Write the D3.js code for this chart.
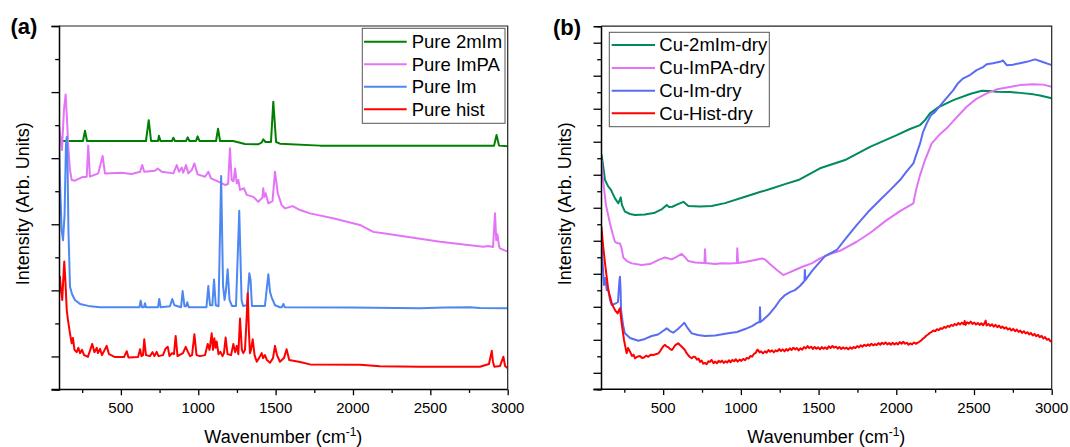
<!DOCTYPE html>
<html><head><meta charset="utf-8">
<script src="https://cdn.jsdelivr.net/npm/d3@7"></script>
<style>
body{margin:0;background:#fff}
svg{display:block}
text{font-family:"Liberation Sans",Arial,sans-serif;fill:#000}
</style>
</head><body>
<svg id="chart" width="1070" height="447"></svg>
<script>
// ---------------- data ----------------
const xMajorTicks = [500, 1000, 1500, 2000, 2500, 3000];
const xMinorTicks = [250, 750, 1250, 1750, 2250, 2750];
const xTitle = "Wavenumber (cm";
const xTitleSup = "-1";
const yTitle = "Intensity (Arb. Units)";
const panelLabels = ["(a)", "(b)"];
const namesA = ["Pure 2mIm", "Pure ImPA", "Pure Im", "Pure hist"];
const namesB = ["Cu-2mIm-dry", "Cu-ImPA-dry", "Cu-Im-dry", "Cu-Hist-dry"];

// panel (a) spectra: [wavenumber, intensity]
const pure2mIm = [[100,7.80],[110,7.61],[119,7.52],[255,7.52],[268,7.83],[281,7.52],[662,7.52],[680,8.15],[695,7.52],[740,7.52],[746,7.68],[756,7.52],[830,7.52],[839,7.62],[850,7.52],[921,7.52],[932,7.63],[943,7.52],[985,7.52],[996,7.66],[1008,7.52],[1115,7.52],[1128,7.89],[1141,7.52],[1225,7.52],[1302,7.43],[1386,7.42],[1409,7.47],[1420,7.57],[1435,7.49],[1470,7.49],[1485,8.71],[1503,7.49],[1528,7.44],[1787,7.38],[2912,7.38],[2928,7.70],[2944,7.38],[3000,7.36]];
const pureImPA = [[100,8.00],[119,7.25],[132,8.46],[143,8.93],[152,8.15],[160,7.35],[171,6.64],[182,6.34],[203,6.32],[247,6.42],[279,6.44],[289,7.38],[300,6.44],[354,6.54],[382,7.07],[397,6.54],[505,6.56],[570,6.52],[624,6.59],[638,6.79],[651,6.59],[720,6.62],[738,6.69],[764,6.59],[839,6.54],[861,6.79],[876,6.59],[893,6.72],[903,6.56],[921,6.79],[936,6.54],[958,6.64],[975,6.84],[996,6.51],[1044,6.44],[1065,6.59],[1082,6.39],[1130,6.29],[1173,6.19],[1193,6.22],[1205,7.30],[1216,6.34],[1228,6.30],[1238,6.69],[1249,6.24],[1259,6.34],[1270,6.04],[1296,6.09],[1313,5.89],[1356,5.83],[1388,5.68],[1414,5.80],[1420,6.09],[1427,5.83],[1436,5.94],[1453,5.63],[1480,5.70],[1496,6.59],[1514,5.94],[1539,5.58],[1561,5.48],[1610,5.55],[1658,5.43],[1722,5.33],[1871,5.18],[2045,4.98],[2131,4.77],[2196,4.73],[2563,4.47],[2842,4.32],[2873,4.34],[2905,4.31],[2918,5.33],[2926,4.52],[2933,4.70],[2944,4.34],[2950,4.27],[3000,4.17]];
const pureIm = [[100,7.64],[106,6.34],[117,4.83],[126,4.52],[136,5.28],[145,7.40],[150,7.64],[155,6.94],[161,4.83],[171,3.11],[184,2.89],[203,2.71],[236,2.59],[289,2.53],[365,2.49],[620,2.49],[628,2.69],[636,2.49],[649,2.49],[656,2.61],[662,2.49],[740,2.49],[748,2.74],[757,2.49],[817,2.52],[832,2.74],[846,2.55],[889,2.49],[899,2.98],[911,2.52],[921,2.52],[929,2.64],[938,2.49],[1053,2.49],[1065,3.13],[1076,2.55],[1091,2.55],[1102,3.33],[1113,2.55],[1131,2.52],[1148,6.46],[1160,3.16],[1170,2.71],[1179,3.00],[1190,3.64],[1202,2.71],[1218,2.53],[1244,2.53],[1265,5.41],[1280,2.71],[1289,2.53],[1315,2.55],[1330,3.52],[1338,3.32],[1347,2.53],[1431,2.53],[1453,3.49],[1464,2.95],[1475,2.78],[1496,2.55],[1528,2.49],[1541,2.49],[1550,2.59],[1559,2.49],[1981,2.48],[2433,2.46],[2595,2.48],[2756,2.49],[2821,2.47],[3000,2.46]];
const pureHist = [[100,3.41],[106,3.41],[113,3.01],[121,2.71],[129,3.46],[134,3.87],[141,3.31],[150,2.41],[158,2.10],[171,1.70],[182,1.40],[190,1.56],[200,1.20],[214,1.13],[225,1.26],[236,1.10],[249,1.20],[262,1.04],[287,0.99],[315,1.38],[329,1.13],[344,1.26],[352,1.10],[365,1.23],[378,1.04],[408,1.32],[423,1.07],[462,0.98],[520,0.98],[538,1.16],[549,0.97],[611,0.98],[624,1.22],[633,1.01],[643,1.04],[651,1.52],[662,1.04],[688,1.01],[704,1.13],[717,1.01],[731,1.14],[743,1.01],[772,1.04],[788,1.23],[803,1.29],[814,1.01],[830,1.10],[843,1.07],[854,1.62],[866,1.01],[901,1.10],[919,1.29],[934,1.13],[947,1.01],[960,1.04],[975,1.67],[989,1.04],[1011,1.01],[1044,1.04],[1061,1.38],[1073,1.20],[1087,1.70],[1095,1.20],[1104,1.55],[1112,1.26],[1119,1.45],[1131,1.07],[1143,1.14],[1157,1.01],[1166,1.10],[1177,1.57],[1189,1.07],[1212,1.04],[1227,1.38],[1238,1.13],[1249,1.32],[1259,1.07],[1270,2.15],[1282,1.20],[1291,1.10],[1302,1.20],[1312,2.10],[1320,2.91],[1327,1.80],[1334,1.10],[1341,1.20],[1352,1.52],[1364,1.04],[1378,0.84],[1393,0.95],[1410,1.10],[1419,0.95],[1431,1.04],[1444,0.89],[1464,0.81],[1483,0.95],[1496,1.32],[1509,1.04],[1528,0.84],[1554,0.95],[1571,1.22],[1588,0.89],[1658,0.83],[1722,0.76],[2045,0.75],[2174,0.70],[2433,0.69],[2821,0.69],[2879,0.77],[2897,1.17],[2905,0.83],[2914,0.69],[2950,0.71],[2972,0.99],[2983,0.71],[3000,0.64]];

// panel (b) spectra: [wavenumber, intensity]
const cu2mImDry = [[103,14.25],[113,13.59],[126,12.68],[145,12.31],[164,12.08],[190,11.57],[211,11.27],[221,11.47],[227,11.63],[235,11.16],[254,10.76],[287,10.62],[319,10.56],[383,10.59],[447,10.70],[493,10.92],[523,11.16],[538,11.04],[559,11.06],[595,11.22],[630,11.36],[647,11.22],[662,11.10],[737,11.07],[812,11.10],[898,11.28],[1027,11.67],[1123,11.95],[1198,12.17],[1284,12.43],[1370,12.68],[1509,13.39],[1670,13.89],[1831,14.69],[2003,15.40],[2088,15.77],[2153,16.01],[2185,16.31],[2217,16.72],[2270,17.08],[2313,17.28],[2367,17.52],[2474,17.89],[2550,18.09],[2603,18.07],[2646,18.03],[2732,18.01],[2796,17.96],[2882,17.87],[2925,17.80],[3000,17.63]];
const cuImPADry = [[103,13.89],[113,12.68],[132,11.16],[158,10.05],[177,9.35],[190,8.94],[203,8.86],[222,8.84],[232,8.56],[243,7.99],[267,7.77],[298,7.63],[362,7.53],[415,7.59],[467,7.83],[512,7.99],[555,7.87],[583,8.01],[619,8.20],[640,8.01],[662,7.77],[705,7.68],[766,7.65],[769,8.48],[774,7.65],[834,7.59],[877,7.63],[930,7.62],[974,7.65],[977,8.54],[982,7.65],[1027,7.71],[1091,7.83],[1134,7.93],[1155,7.87],[1187,7.59],[1232,7.23],[1273,6.92],[1310,7.07],[1348,7.23],[1400,7.44],[1456,7.63],[1509,7.93],[1574,8.20],[1638,8.39],[1745,8.94],[1831,9.47],[1938,10.25],[2024,10.80],[2110,11.27],[2127,12.07],[2153,12.98],[2185,13.89],[2228,14.90],[2281,15.46],[2324,15.81],[2384,16.43],[2453,17.12],[2513,17.58],[2582,17.93],[2642,18.16],[2711,18.29],[2796,18.43],[2882,18.49],[2945,18.46],[3000,18.33]];
const cuImDry = [[103,9.04],[110,7.71],[119,6.32],[128,6.74],[137,6.01],[147,6.01],[158,5.41],[169,5.11],[195,5.21],[209,5.29],[219,6.62],[222,6.82],[226,6.01],[229,4.80],[242,3.89],[254,3.39],[287,3.11],[340,2.94],[383,3.05],[426,3.23],[467,3.32],[499,3.53],[523,3.69],[544,3.53],[565,3.43],[595,3.65],[621,3.89],[636,4.03],[653,3.77],[684,3.39],[724,3.29],[769,3.23],[834,3.26],[919,3.39],[975,3.47],[1027,3.65],[1072,3.83],[1110,4.05],[1121,4.08],[1123,4.97],[1126,4.08],[1142,4.20],[1177,4.50],[1220,4.98],[1252,5.41],[1284,5.71],[1316,5.89],[1348,6.01],[1380,6.26],[1409,6.56],[1412,7.23],[1415,6.62],[1458,7.17],[1541,8.07],[1617,8.44],[1677,9.16],[1745,9.95],[1818,10.74],[1895,11.47],[1960,12.07],[2024,12.68],[2063,13.16],[2110,13.69],[2134,14.37],[2153,14.90],[2172,15.58],[2196,16.11],[2223,16.61],[2249,16.81],[2301,17.40],[2367,18.13],[2397,18.55],[2431,18.84],[2474,19.04],[2517,19.34],[2558,19.52],[2582,19.70],[2622,19.76],[2667,19.84],[2687,19.92],[2711,19.64],[2751,19.67],[2796,19.76],[2839,19.84],[2893,19.99],[2938,19.85],[3000,19.64]];
const cuHistDry = [[103,9.85],[113,8.74],[126,7.63],[147,6.01],[169,5.21],[190,4.80],[207,4.60],[222,4.91],[233,4.00],[248,2.99],[265,2.18],[274,2.50],[287,2.28],[299,2.02],[309,2.10],[319,1.88],[335,1.98],[351,2.02],[364,1.90],[377,1.93],[390,2.04],[404,1.97],[420,2.10],[435,2.08],[452,2.12],[469,2.18],[480,2.30],[493,2.50],[502,2.62],[512,2.69],[521,2.60],[531,2.56],[543,2.46],[555,2.38],[566,2.50],[576,2.65],[586,2.72],[597,2.79],[606,2.70],[615,2.62],[628,2.50],[640,2.38],[650,2.20],[660,2.08],[672,1.96],[684,1.88],[695,1.98],[705,1.96],[718,1.80],[728,1.86],[737,1.66],[748,1.74],[758,1.55],[769,1.60],[780,1.52],[791,1.70],[801,1.66],[812,1.78],[824,1.58],[835,1.68],[846,1.57],[857,1.72],[868,1.64],[878,1.74],[890,1.60],[901,1.70],[912,1.62],[923,1.76],[934,1.64],[946,1.78],[957,1.70],[968,1.82],[980,1.68],[992,1.80],[1003,1.72],[1015,1.84],[1027,1.76],[1038,1.90],[1050,1.86],[1061,2.02],[1072,1.98],[1084,2.14],[1095,2.20],[1106,2.40],[1112,2.36],[1120,2.24],[1130,2.30],[1142,2.18],[1155,2.30],[1166,2.22],[1178,2.38],[1189,2.28],[1200,2.36],[1212,2.24],[1223,2.36],[1235,2.30],[1246,2.44],[1258,2.32],[1269,2.42],[1281,2.30],[1292,2.44],[1303,2.34],[1315,2.48],[1326,2.38],[1338,2.52],[1349,2.42],[1360,2.50],[1372,2.36],[1383,2.48],[1395,2.40],[1406,2.56],[1418,2.48],[1429,2.62],[1440,2.50],[1452,2.58],[1463,2.44],[1475,2.56],[1486,2.46],[1497,2.54],[1509,2.42],[1520,2.56],[1532,2.46],[1543,2.54],[1555,2.44],[1566,2.60],[1577,2.50],[1589,2.62],[1600,2.52],[1612,2.58],[1623,2.46],[1634,2.56],[1646,2.44],[1657,2.54],[1669,2.46],[1680,2.52],[1691,2.42],[1703,2.54],[1714,2.46],[1726,2.56],[1737,2.50],[1748,2.62],[1760,2.54],[1771,2.66],[1783,2.58],[1794,2.70],[1806,2.62],[1817,2.72],[1828,2.64],[1840,2.76],[1851,2.66],[1863,2.74],[1874,2.68],[1885,2.80],[1897,2.70],[1908,2.82],[1920,2.74],[1931,2.84],[1942,2.72],[1954,2.80],[1965,2.70],[1977,2.82],[1988,2.72],[2000,2.80],[2011,2.72],[2022,2.86],[2034,2.76],[2045,2.88],[2057,2.76],[2068,2.82],[2079,2.70],[2091,2.78],[2102,2.72],[2114,2.84],[2125,2.76],[2137,2.82],[2148,2.88],[2160,2.96],[2171,3.06],[2182,3.14],[2194,3.26],[2205,3.32],[2217,3.42],[2228,3.48],[2239,3.56],[2251,3.52],[2262,3.64],[2274,3.58],[2285,3.70],[2296,3.66],[2308,3.78],[2319,3.72],[2331,3.84],[2342,3.78],[2353,3.90],[2365,3.84],[2376,3.96],[2388,3.88],[2399,4.02],[2410,3.92],[2422,4.04],[2433,3.94],[2440,4.14],[2445,3.90],[2456,4.06],[2467,3.98],[2479,4.10],[2490,3.96],[2502,4.04],[2513,3.92],[2524,4.02],[2536,3.90],[2547,4.00],[2559,3.88],[2570,4.04],[2575,4.16],[2581,3.86],[2593,3.96],[2604,3.84],[2616,3.94],[2627,3.80],[2638,3.90],[2650,3.76],[2661,3.86],[2673,3.72],[2684,3.80],[2695,3.68],[2707,3.76],[2718,3.62],[2730,3.70],[2741,3.56],[2752,3.66],[2764,3.52],[2775,3.62],[2787,3.48],[2798,3.56],[2809,3.42],[2821,3.52],[2832,3.38],[2844,3.46],[2855,3.32],[2866,3.42],[2878,3.26],[2889,3.36],[2900,3.22],[2912,3.30],[2923,3.16],[2935,3.24],[2946,3.08],[2957,3.16],[2969,3.00],[2980,3.06],[2991,2.92],[3000,2.88]];

// ---------------- drawing ----------------
const svg = d3.select("#chart");
const FONT = '"Liberation Sans", Arial, sans-serif';

const panels = [
  {
    label: panelLabels[0], labelX: 10.5, labelY: 34,
    left: 59, right: 507.7, top: 26, bottom: 389.5,
    yMax: 11, yTitleX: 28.5,
    series: [
      {name: namesA[0], data: pure2mIm, color: "#008000"},
      {name: namesA[1], data: pureImPA, color: "#E473F8"},
      {name: namesA[2], data: pureIm,   color: "#4D88F2"},
      {name: namesA[3], data: pureHist, color: "#FF0000"}
    ],
    legend: {x: 362.3, y: 28.3, w: 142.7, h: 95, lx0: 364, lx1: 406.7, tx: 411.7, rows: [41.8, 64.3, 86.8, 109.3]}
  },
  {
    label: panelLabels[1], labelX: 553, labelY: 35,
    left: 601, right: 1051.7, top: 26.2, bottom: 389.3,
    yMax: 22, yTitleX: 571,
    series: [
      {name: namesB[0], data: cu2mImDry, color: "#008A5E"},
      {name: namesB[1], data: cuImPADry, color: "#E273F6"},
      {name: namesB[2], data: cuImDry,   color: "#5A6CF2"},
      {name: namesB[3], data: cuHistDry, color: "#FF0000"}
    ],
    legend: {x: 609.3, y: 32.3, w: 160, h: 94.4, lx0: 611.7, lx1: 655, tx: 659.3, rows: [45, 68, 90.7, 113.3]}
  }
];

panels.forEach((p, pi) => {
  const g = svg.append("g");
  const x = d3.scaleLinear().domain([100, 3000]).range([p.left, p.right]);
  const y = d3.scaleLinear().domain([0, p.yMax]).range([p.bottom, p.top]);

  const clipId = "clip" + pi;
  svg.append("clipPath").attr("id", clipId).append("rect")
    .attr("x", p.left).attr("y", p.top).attr("width", p.right - p.left).attr("height", p.bottom - p.top);

  // series lines
  const line = d3.line().x(d => x(d[0])).y(d => y(d[1]));
  p.series.forEach(s => {
    g.append("path").datum(s.data)
      .attr("clip-path", `url(#${clipId})`)
      .attr("fill", "none").attr("stroke", s.color)
      .attr("stroke-width", 2).attr("stroke-linejoin", "round")
      .attr("d", line);
  });

  // frame (top & right)
  g.append("path")
    .attr("d", `M${p.left},${p.top}H${p.right}V${p.bottom}`)
    .attr("fill", "none").attr("stroke", "#222").attr("stroke-width", 1.2);

  // y axis ticks
  const yMajor = d3.range(1, p.yMax + 1, 2);
  const yMinor = d3.range(0, p.yMax + 1, 2);
  const yAxMaj = d3.axisLeft(y).tickValues(yMajor).tickSize(7.5).tickFormat("");
  const yAxMin = d3.axisLeft(y).tickValues(yMinor).tickSize(3.8).tickFormat("");
  const ga1 = g.append("g").attr("transform", `translate(${p.left},0)`).call(yAxMaj);
  const ga2 = g.append("g").attr("transform", `translate(${p.left},0)`).call(yAxMin);
  ga2.select(".domain").remove();
  [ga1, ga2].forEach(a => { a.selectAll("line").attr("stroke", "#000").attr("stroke-width", 1.3);
    a.select(".domain").attr("stroke", "#000").attr("stroke-width", 1.5); });

  // x axis ticks
  const xAxMaj = d3.axisBottom(x).tickValues(xMajorTicks).tickSize(5.8).tickFormat("");
  const xAxMin = d3.axisBottom(x).tickValues(xMinorTicks).tickSize(3.4).tickFormat("");
  const gx1 = g.append("g").attr("transform", `translate(0,${p.bottom})`).call(xAxMaj);
  const gx2 = g.append("g").attr("transform", `translate(0,${p.bottom})`).call(xAxMin);
  gx2.select(".domain").remove();
  gx1.select(".domain").attr("d", `M${p.left - 7.5},0H${p.right}`);
  [gx1, gx2].forEach(a => { a.selectAll("line").attr("stroke", "#000").attr("stroke-width", 1.3);
    a.select(".domain").attr("stroke", "#000").attr("stroke-width", 1.5); });

  // x tick labels
  g.selectAll(".xl").data(xMajorTicks).enter().append("text")
    .attr("x", d => x(d)).attr("y", 413.3)
    .attr("text-anchor", "middle").attr("font-size", "15px").attr("font-family", FONT)
    .text(d => d);

  // x title
  const xt = g.append("text").attr("x", (p.left + p.right) / 2).attr("y", 443)
    .attr("text-anchor", "middle").attr("font-size", "18px").attr("font-family", FONT);
  xt.append("tspan").text(xTitle);
  xt.append("tspan").attr("font-size", "12px").attr("dy", -7).text(xTitleSup);
  xt.append("tspan").attr("dy", 7).text(")");

  // y title
  g.append("text")
    .attr("transform", `translate(${p.yTitleX},${(p.top + p.bottom) / 2 - 4}) rotate(-90)`)
    .attr("text-anchor", "middle").attr("font-size", "18px").attr("font-family", FONT)
    .text(yTitle);

  // panel label
  g.append("text").attr("x", p.labelX).attr("y", p.labelY)
    .attr("font-size", "22px").attr("font-weight", "bold").attr("font-family", FONT)
    .text(p.label);

  // legend
  const L = p.legend;
  g.append("rect").attr("x", L.x).attr("y", L.y).attr("width", L.w).attr("height", L.h)
    .attr("fill", "#fff").attr("stroke", "#555").attr("stroke-width", 1);
  p.series.forEach((s, i) => {
    g.append("line").attr("x1", L.lx0).attr("x2", L.lx1).attr("y1", L.rows[i]).attr("y2", L.rows[i])
      .attr("stroke", s.color).attr("stroke-width", 2);
    g.append("text").attr("x", L.tx).attr("y", L.rows[i]).attr("dy", "0.35em")
      .attr("font-size", "18.5px").attr("font-family", FONT).text(s.name);
  });
});
</script>
</body></html>
